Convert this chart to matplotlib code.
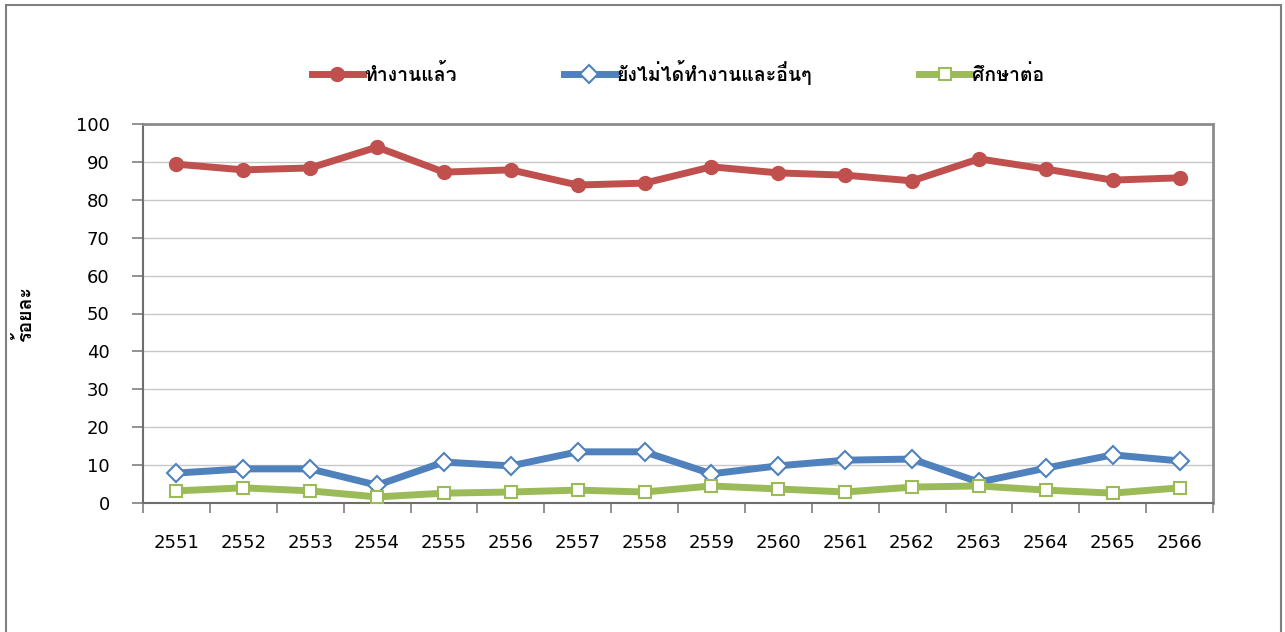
#!/usr/bin/env python
"""
line chart: share of graduates working / not yet working / studying, 2551-2566
"""
import matplotlib
matplotlib.use('Agg')
import matplotlib.pyplot as plt
from matplotlib import font_manager
from matplotlib.ft2font import FT2Font
from matplotlib.patches import Rectangle
import numpy as np

years = ['2551', '2552', '2553', '2554', '2555', '2556', '2557', '2558',
         '2559', '2560', '2561', '2562', '2563', '2564', '2565', '2566']
working = [89.4, 87.9, 88.4, 93.9, 87.3, 87.9, 83.9, 84.4,
           88.7, 87.1, 86.5, 85.0, 90.8, 88.1, 85.2, 85.8]
not_working = [7.9, 9.0, 9.0, 4.7, 10.8, 9.8, 13.5, 13.5,
               7.7, 9.8, 11.3, 11.6, 5.5, 9.2, 12.7, 11.1]
studying = [3.2, 4.0, 3.2, 1.6, 2.6, 2.9, 3.4, 2.9,
            4.5, 3.7, 2.9, 4.2, 4.5, 3.4, 2.6, 4.0]
series_names = ['ทำงานแล้ว', 'ยังไม่ได้ทำงานและอื่นๆ', 'ศึกษาต่อ']
y_label = 'ร้อยละ'


def find_thai_font():
    # look for any installed font that has the thai glyphs
    for f in font_manager.fontManager.ttflist:
        try:
            cmap = FT2Font(f.fname).get_charmap()
        except Exception:
            continue
        if ord('ท') in cmap and ord('ำ') in cmap:
            return f.name
    return None


thai_font = find_thai_font()
thai_families = ['DejaVu Sans']
if thai_font is not None:
    thai_families = [thai_font, 'DejaVu Sans']
plt.rcParams['font.family'] = ['DejaVu Sans'] + thai_families[:1]

fig = plt.figure(figsize=(12.85, 6.32), dpi=100)
# outer chart border
fig.patches.append(Rectangle((6 / 1285, -0.05), 1275 / 1285, 1 - 5 / 632 + 0.05,
                             transform=fig.transFigure, fill=False,
                             edgecolor='#7f7f7f', linewidth=1.5))

ax = fig.add_axes([143 / 1285, 129 / 632, 1070 / 1285, 379 / 632])

x = np.arange(len(years)) + 0.5
ax.plot(x, working, color='#c0504d', linewidth=5.0, marker='o', markersize=10,
        markerfacecolor='#c0504d', markeredgecolor='#c0504d',
        label=series_names[0], zorder=3)
ax.plot(x, not_working, color='#4f81bd', linewidth=5.0, marker='D', markersize=9,
        markerfacecolor='white', markeredgecolor='#4f81bd', markeredgewidth=1.5,
        label=series_names[1], zorder=3)
ax.plot(x, studying, color='#9bbb59', linewidth=5.0, marker='s', markersize=8,
        markerfacecolor='white', markeredgecolor='#9bbb59', markeredgewidth=1.5,
        label=series_names[2], zorder=3)

ax.set_xlim(0, len(years))
ax.set_ylim(0, 100)
ax.set_yticks(np.arange(0, 101, 10))
ax.yaxis.grid(True, color='#c8c8c8', linewidth=1)
ax.set_axisbelow(True)

ax.set_xticks(np.arange(0, len(years) + 1))
ax.set_xticklabels([])
ax.set_xticks(x, minor=True)
ax.set_xticklabels(years, minor=True)
ax.tick_params(axis='x', which='major', length=7, width=1.2, color='#7f7f7f',
               direction='out')
ax.tick_params(axis='x', which='minor', length=0, pad=22, labelsize=13)
ax.tick_params(axis='y', length=8, width=1.2, color='#7f7f7f', labelsize=13,
               pad=16)

for side in ['top', 'right']:
    ax.spines[side].set_color('#8c8c8c')
    ax.spines[side].set_linewidth(2)
ax.spines['left'].set_color('#6e6e6e')
ax.spines['left'].set_linewidth(1.5)
ax.spines['bottom'].set_color('#6e6e6e')
ax.spines['bottom'].set_linewidth(1.5)

ax.set_ylabel(y_label, fontsize=14, fontweight='bold', family=thai_families)
ax.yaxis.set_label_coords((35 - 143) / 1070, 0.5)

ax.legend(loc='center', bbox_to_anchor=(0.5, 1.0 + 52 / 379), ncol=3,
          frameon=False, handlelength=2.6, handletextpad=0.1,
          columnspacing=5.5,
          prop={'weight': 'bold', 'size': 14, 'family': thai_families})

fig.savefig('out.png', dpi=100)
